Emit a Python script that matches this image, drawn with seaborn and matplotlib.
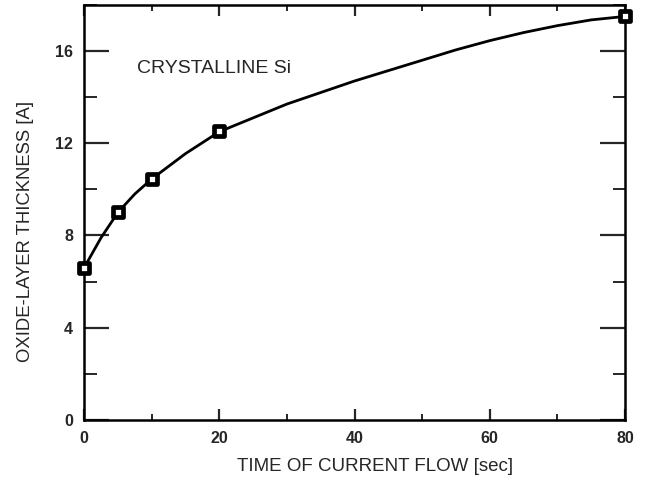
import matplotlib
matplotlib.use("Agg")
import matplotlib.pyplot as plt
import seaborn as sns
import pandas as pd
from matplotlib.ticker import MultipleLocator

# Measured oxide thickness vs. time of current flow
time_s = [0, 5, 10, 20, 80]
thickness_a = [6.6, 9.0, 10.45, 12.55, 17.5]

# Guide curve drawn through the measurements
curve_time = [0, 2.5, 5, 7.5, 10, 15, 20, 25, 30, 35, 40, 45, 50, 55, 60, 65, 70, 75, 80]
curve_thick = [6.6, 7.9, 9.0, 9.8, 10.45, 11.55, 12.5, 13.1, 13.7, 14.2, 14.7,
               15.15, 15.6, 16.05, 16.45, 16.8, 17.1, 17.35, 17.5]

pts = pd.DataFrame({"time": time_s, "thickness": thickness_a})
fit = pd.DataFrame({"time": curve_time, "thickness": curve_thick})

sns.set_theme(style="ticks")
plt.rcParams["font.family"] = ["Liberation Sans", "DejaVu Sans"]

fig = plt.figure(figsize=(6.47, 4.90), dpi=100)
ax = fig.add_axes([0.130, 0.143, 0.836, 0.847])

sns.lineplot(data=fit, x="time", y="thickness", ax=ax, color="black",
             linewidth=2.0, sort=True)
sns.scatterplot(data=pts, x="time", y="thickness", ax=ax, marker="s",
                s=48, facecolor="white", edgecolor="black", linewidth=3.4,
                zorder=5, clip_on=False)

ax.set_xlim(0, 80)
ax.set_ylim(0, 18)
ax.xaxis.set_major_locator(MultipleLocator(20))
ax.xaxis.set_minor_locator(MultipleLocator(10))
ax.yaxis.set_major_locator(MultipleLocator(4))
ax.yaxis.set_minor_locator(MultipleLocator(2))

for s in ax.spines.values():
    s.set_visible(True)
    s.set_linewidth(1.8)
    s.set_color("black")

ax.tick_params(axis="y", which="major", direction="in", length=18, width=1.6,
               left=True, right=True, labelsize=11.5, pad=8)
ax.tick_params(axis="y", which="minor", direction="in", length=9, width=1.4,
               left=True, right=True)
ax.tick_params(axis="x", which="major", direction="in", length=8, width=1.6,
               bottom=True, top=True, labelsize=11.5, pad=8)
ax.tick_params(axis="x", which="minor", direction="in", length=4, width=1.4,
               bottom=True, top=True)
for lab in ax.get_xticklabels() + ax.get_yticklabels():
    lab.set_fontweight("bold")

ax.set_xlabel("TIME OF CURRENT FLOW [sec]", fontsize=13.5, va="center")
ax.set_ylabel("OXIDE-LAYER THICKNESS [A]", fontsize=13.3, va="center")
ax.xaxis.set_label_coords(0.538, -0.113)
ax.yaxis.set_label_coords(-0.109, 0.454)

ax.text(7.8, 15.25, "CRYSTALLINE Si", fontsize=14, ha="left", va="center")

fig.savefig("out.png", dpi=100)
